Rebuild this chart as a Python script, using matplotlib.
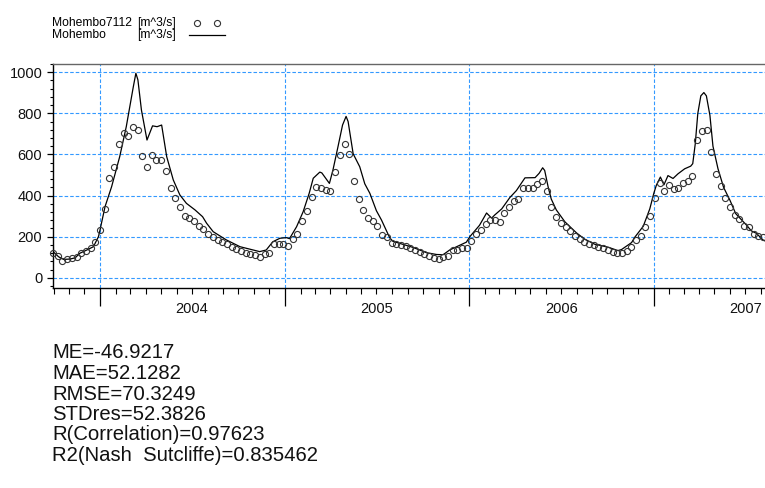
import matplotlib
matplotlib.use('Agg')
import matplotlib.pyplot as plt
import matplotlib.dates as mdates
import matplotlib.transforms as mtransforms
from matplotlib.ticker import MultipleLocator, NullFormatter
from matplotlib.lines import Line2D
import pandas as pd

plt.rcParams['font.family'] = ['Liberation Sans', 'DejaVu Sans']

# ---------------- data ----------------
obs_name = 'Mohembo7112'
sim_name = 'Mohembo'
unit = '[m^3/s]'

obs_start = '2003-09-30'
obs_end = '2007-08-05'
obs_values = [
    119, 104, 83, 92, 95, 101, 118, 132, 143, 172,
    232, 336, 483, 538, 652, 705, 688, 734, 718, 592,
    541, 595, 571, 574, 519, 437, 388, 343, 302, 290,
    277, 253, 236, 215, 199, 184, 175, 163, 150, 142,
    130, 122, 117, 111, 101, 114, 122, 163, 163, 163,
    155, 188, 215, 274, 326, 395, 440, 437, 427, 424,
    514, 595, 652, 600, 470, 383, 331, 290, 274, 250,
    209, 196, 168, 166, 158, 152, 144, 134, 124, 114,
    106, 95, 93, 101, 106, 134, 137, 144, 147, 179,
    212, 232, 261, 281, 281, 272, 313, 346, 372, 383,
    435, 435, 435, 457, 473, 424, 346, 294, 267, 245,
    228, 201, 188, 176, 163, 160, 150, 144, 134, 127,
    119, 122, 132, 150, 183, 204, 248, 302, 387, 462,
    424, 453, 432, 437, 462, 473, 493, 669, 714, 721,
    612, 506, 445, 388, 343, 307, 285, 253, 245, 215,
    204, 196,
]

sim_dates = [
    '2003-09-30', '2003-10-01', '2003-10-11', '2003-10-21', '2003-11-03',
    '2003-11-13', '2003-11-22', '2003-12-06', '2003-12-19', '2003-12-29',
    '2004-01-01', '2004-01-11', '2004-01-24', '2004-02-09', '2004-02-22',
    '2004-03-07', '2004-03-12', '2004-03-16', '2004-03-23', '2004-04-03',
    '2004-04-14', '2004-04-23', '2004-05-02', '2004-05-12', '2004-05-25',
    '2004-06-07', '2004-06-20', '2004-07-07', '2004-07-22', '2004-07-30',
    '2004-08-12', '2004-09-07', '2004-10-04', '2004-10-30', '2004-11-12',
    '2004-11-25', '2004-12-08', '2004-12-22', '2005-01-04', '2005-01-10',
    '2005-01-24', '2005-02-06', '2005-02-18', '2005-02-26', '2005-03-11',
    '2005-03-15', '2005-03-30', '2005-04-06', '2005-04-16', '2005-04-25',
    '2005-05-02', '2005-05-06', '2005-05-16', '2005-05-29', '2005-06-08',
    '2005-06-18', '2005-07-01', '2005-07-11', '2005-07-27', '2005-08-02',
    '2005-08-23', '2005-09-12', '2005-10-08', '2005-10-28', '2005-11-10',
    '2005-11-23', '2005-12-06', '2005-12-26', '2006-01-02', '2006-01-21',
    '2006-02-04', '2006-02-14', '2006-02-20', '2006-03-06', '2006-03-22',
    '2006-04-04', '2006-04-21', '2006-05-11', '2006-05-19', '2006-05-26',
    '2006-05-30', '2006-06-06', '2006-06-12', '2006-06-22', '2006-07-09',
    '2006-08-01', '2006-08-17', '2006-09-06', '2006-10-02', '2006-10-22',
    '2006-10-29', '2006-11-18', '2006-11-24', '2006-12-11', '2006-12-24',
    '2007-01-01', '2007-01-06', '2007-01-14', '2007-01-21', '2007-01-29',
    '2007-02-08', '2007-02-18', '2007-03-03', '2007-03-15', '2007-03-19',
    '2007-03-24', '2007-03-29', '2007-04-04', '2007-04-10', '2007-04-15',
    '2007-04-22', '2007-04-28', '2007-05-08', '2007-05-19', '2007-06-01',
    '2007-06-12', '2007-07-03', '2007-07-13', '2007-07-23', '2007-08-05',
    '2007-08-09',
]
sim_values = [
    281, 125, 102, 89, 91,
    97, 119, 135, 151, 200,
    232, 346, 443, 589, 735,
    930, 995, 963, 816, 670,
    739, 735, 743, 589, 476,
    403, 362, 330, 297, 265,
    224, 184, 151, 135, 127,
    135, 175, 192, 195, 190,
    248, 321, 411, 484, 514,
    510, 459, 524, 638, 743,
    785, 760, 603, 540, 457,
    411, 326, 281, 196, 178,
    162, 147, 122, 113, 112,
    135, 150, 173, 200, 255,
    315, 290, 305, 335, 390,
    424, 486, 487, 508, 535,
    522, 440, 383, 330, 272,
    218, 188, 163, 149, 132,
    137, 171, 196, 250, 335,
    411, 450, 490, 452, 497,
    483, 506, 530, 543, 555,
    652, 799, 885, 901, 885,
    790, 640, 530, 440, 375,
    312, 257, 228, 216, 184,
    179,
]

x_start = '2003-09-30'
x_end = '2007-08-09'
y_min, y_max = -50, 1040
y_ticks = [0, 200, 400, 600, 800, 1000]
year_labels = ['2004', '2005', '2006', '2007']
year_label_dates = ['2004-07-01', '2005-07-02', '2006-07-02', '2007-07-02']

stats_lines = [
    'ME=-46.9217',
    'MAE=52.1282',
    'RMSE=70.3249',
    'STDres=52.3826',
    'R(Correlation)=0.97623',
    'R2(Nash  Sutcliffe)=0.835462',
]

# ---------------- figure ----------------
W, H = 765, 488
fig = plt.figure(figsize=(W / 100, H / 100), dpi=100)
ax = fig.add_axes([53 / W, 1 - 288 / H, 1 - 53 / W, (288 - 64) / H])

obs_dates = pd.date_range(obs_start, obs_end, periods=len(obs_values))
sim_dt = pd.to_datetime(sim_dates)

grid_color = '#3399ff'
ax.plot(sim_dt, sim_values, color='black', lw=0.9, zorder=3)
ax.plot(obs_dates, obs_values, linestyle='none', marker='o', mfc='none',
        mec='#333333', ms=4.4, mew=0.8, zorder=4, clip_on=False)

ax.set_xlim(pd.Timestamp(x_start), pd.Timestamp(x_end))
ax.set_ylim(y_min, y_max)

ax.xaxis.set_major_locator(mdates.YearLocator())
ax.xaxis.set_minor_locator(mdates.MonthLocator())
ax.xaxis.set_major_formatter(NullFormatter())
ax.xaxis.set_minor_formatter(NullFormatter())
ax.set_yticks(y_ticks)
ax.yaxis.set_minor_locator(MultipleLocator(40))

ax.tick_params(axis='x', which='major', length=13, width=0.9, color='black')
ax.tick_params(axis='x', which='minor', length=4.3, width=0.8, color='black')
ax.tick_params(axis='y', which='major', length=4.2, width=0.9, color='black',
               labelsize=10.5, pad=3.5, labelcolor='#111111')
ax.tick_params(axis='y', which='minor', length=2.4, width=0.8, color='black')

ax.grid(which='major', axis='both', color=grid_color,
        linestyle=(0, (3.2, 1.8)), linewidth=0.8)
ax.set_axisbelow(True)

for s in ['left', 'bottom']:
    ax.spines[s].set_color('black')
    ax.spines[s].set_linewidth(1.0)
ax.spines['top'].set_color('#666666')
ax.spines['top'].set_linewidth(1.0)
ax.spines['right'].set_visible(False)

# year labels centred in each year
trans = mtransforms.blended_transform_factory(ax.transData, ax.transAxes)
for lab, d in zip(year_labels, year_label_dates):
    ax.text(pd.Timestamp(d), -0.095, lab, transform=trans, ha='center',
            va='center', fontsize=10.5, color='#111111', clip_on=False)

# legend (drawn as figure text)
leg_fs = 8.7
fig.text(52 / W, 1 - 23 / H, obs_name, fontsize=leg_fs, va='center', ha='left')
fig.text(137 / W, 1 - 23 / H, unit, fontsize=leg_fs, va='center', ha='left')
fig.text(52 / W, 1 - 35 / H, sim_name, fontsize=leg_fs, va='center', ha='left')
fig.text(137 / W, 1 - 35 / H, unit, fontsize=leg_fs, va='center', ha='left')
fig.add_artist(Line2D([197 / W, 217 / W], [1 - 23 / H, 1 - 23 / H],
                      transform=fig.transFigure, linestyle='none', marker='o',
                      mfc='none', mec='#333333', ms=4.4, mew=0.8))
fig.add_artist(Line2D([189 / W, 225 / W], [1 - 35 / H, 1 - 35 / H],
                      transform=fig.transFigure, color='black', lw=0.9))

# statistics block
y0 = 353
dy = 20.5
for i, line in enumerate(stats_lines):
    fig.text(52 / W, 1 - (y0 + i * dy) / H, line, fontsize=14.6, va='center',
             ha='left', color='#111111')

fig.savefig('out.png', dpi=100)
